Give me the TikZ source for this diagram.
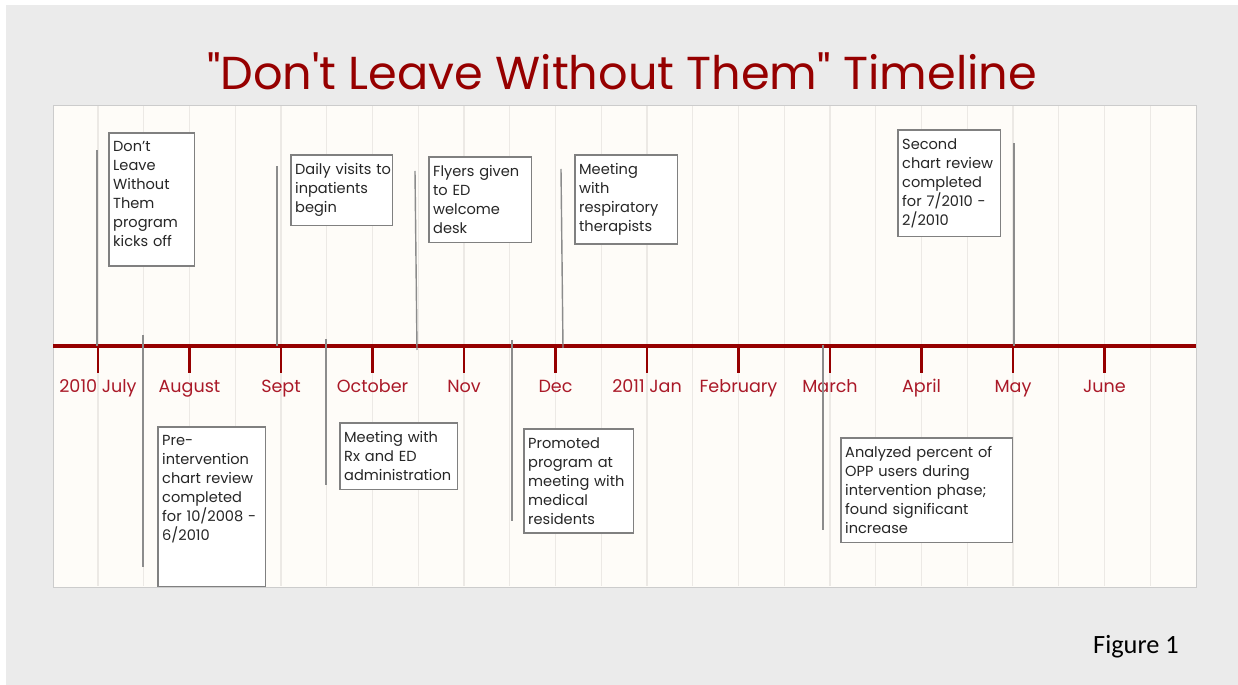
\documentclass[tikz,border=0pt]{standalone}
\usepackage{fontspec}
\setmainfont{Poppins}
\newfontfamily\titlefont{Poppins}[Ligatures=TeXOff]
\newfontfamily\captionfont{Carlito}
\usepackage{xcolor}
\usepackage{tikz}

\definecolor{tlred}{RGB}{150,0,0}
\definecolor{tllabel}{RGB}{170,25,40}
\definecolor{tlgrid}{RGB}{236,233,229}
\definecolor{tlpaper}{RGB}{254,252,248}
\definecolor{tlback}{RGB}{235,235,235}
\definecolor{tlline}{RGB}{140,140,140}
\definecolor{tlbox}{RGB}{128,128,128}

\begin{document}
\hyphenpenalty=10000
\begin{tikzpicture}[x=0.02cm, y=-0.02cm,
		eventbox/.style={draw=tlbox, line width=0.9pt, fill=white, anchor=north west, align=left, inner xsep=2.5pt, inner ysep=5pt, text=black!85, font=\fontsize{8.3}{10.8}\selectfont},
		month/.style={text=tllabel, anchor=base, font=\fontsize{10}{12}\selectfont},
		marker/.style={draw=tlline, line width=0.8pt},
		axis/.style={draw=tlred, line width=2.4pt},
		tick/.style={draw=tlred, line width=1.6pt}]
		% Background
		\useasboundingbox (0,0) rectangle (1238,685);
		\fill[white] (0,0) rectangle (1238,685);
		\fill[tlback] (6,5) rectangle (1238,685);
		\draw[black!20, fill=tlpaper] (53,105) rectangle (1196,587);
		\foreach \k in {0,...,23}
			\draw[tlgrid, line width=0.8pt] ({98+45.75*\k},106) -- ({98+45.75*\k},586);
		
		% Title
		\node[text=tlred, font=\titlefont\fontsize{26.3}{30}\selectfont] (title) at (622,71) {"Don't Leave Without Them" Timeline};
		
		% Axis
		\coordinate (axisL) at (53,346);
		\coordinate (axisR) at (1196,346);
		\draw[axis] (axisL) -- (axisR);
		\foreach \x in {98,189.5,281,372.5,464,555.5,647,738.5,830,921.5,1013,1104.5}
			\draw[tick] (\x,346) -- (\x,373);
		
		% Months
		\node[month] (m1) at (98,393) {2010 July};
		\node[month] (m2) at (189.5,393) {August};
		\node[month] (m3) at (281,393) {Sept};
		\node[month] (m4) at (372.5,393) {October};
		\node[month] (m5) at (464,393) {Nov};
		\node[month] (m6) at (555.5,393) {Dec};
		\node[month] (m7) at (647,393) {2011 Jan};
		\node[month] (m8) at (738.5,393) {February};
		\node[month] (m9) at (830,393) {March};
		\node[month] (m10) at (921.5,393) {April};
		\node[month] (m11) at (1013,393) {May};
		\node[month] (m12) at (1104.5,393) {June};
		
		% Markers
		\coordinate (p1) at (97,346);   \coordinate (q1) at (97,150);
		\coordinate (p2) at (143,335);  \coordinate (q2) at (143,567);
		\coordinate (p3) at (277,346);  \coordinate (q3) at (277,166);
		\coordinate (p4) at (326,339);  \coordinate (q4) at (326,485);
		\coordinate (p5) at (417,350);  \coordinate (q5) at (415,171);
		\coordinate (p6) at (512,340);  \coordinate (q6) at (512,521);
		\coordinate (p7) at (563,348);  \coordinate (q7) at (561,169);
		\coordinate (p8) at (823,345);  \coordinate (q8) at (823,530);
		\coordinate (p9) at (1014,346); \coordinate (q9) at (1014,143);
		\draw[marker] (p1) -- (q1);
		\draw[marker] (p2) -- (q2);
		\draw[marker] (p3) -- (q3);
		\draw[marker] (p4) -- (q4);
		\draw[marker] (p5) -- (q5);
		\draw[marker] (p6) -- (q6);
		\draw[marker] (p7) -- (q7);
		\draw[marker] (p8) -- (q8);
		\draw[marker] (p9) -- (q9);
		
		% Events
		\node[eventbox, text width=1.54cm, text depth=60pt] (kickoff) at (108,132) {Don't\\Leave\\Without\\Them\\program\\kicks off};
		\node[eventbox, text width=1.98cm, text depth=75pt] (prereview) at (157,426) {Pre-\\intervention\\chart~review\\completed\\for 10/2008 -\\6/2010};
		\node[eventbox, text width=1.86cm] (visits) at (290,154) {Daily~visits~to\\inpatients\\begin};
		\node[eventbox, text width=2.18cm] (rxmeet) at (339,422) {Meeting~with\\Rx and ED\\administration};
		\node[eventbox, text width=1.88cm] (flyers) at (428,156) {Flyers~given\\to ED\\welcome\\desk};
		\node[eventbox, text width=2.02cm] (residents) at (523,428) {Promoted\\program~at\\meeting~with\\medical\\residents};
		\node[eventbox, text width=1.88cm] (therapists) at (574,154) {Meeting\\with\\respiratory\\therapists};
		\node[eventbox, text width=3.26cm] (analysis) at (840,437) {Analyzed percent of\\OPP users during\\intervention phase;\\found significant\\increase};
		\node[eventbox, text width=1.88cm] (secondreview) at (897,129) {Second\\chart~review\\completed\\for 7/2010 -\\2/2010};
		
		% Caption
		\node[font=\captionfont\fontsize{15}{17}\selectfont] (caption) at (1136,647) {Figure 1};
	\end{tikzpicture}
\end{document}
